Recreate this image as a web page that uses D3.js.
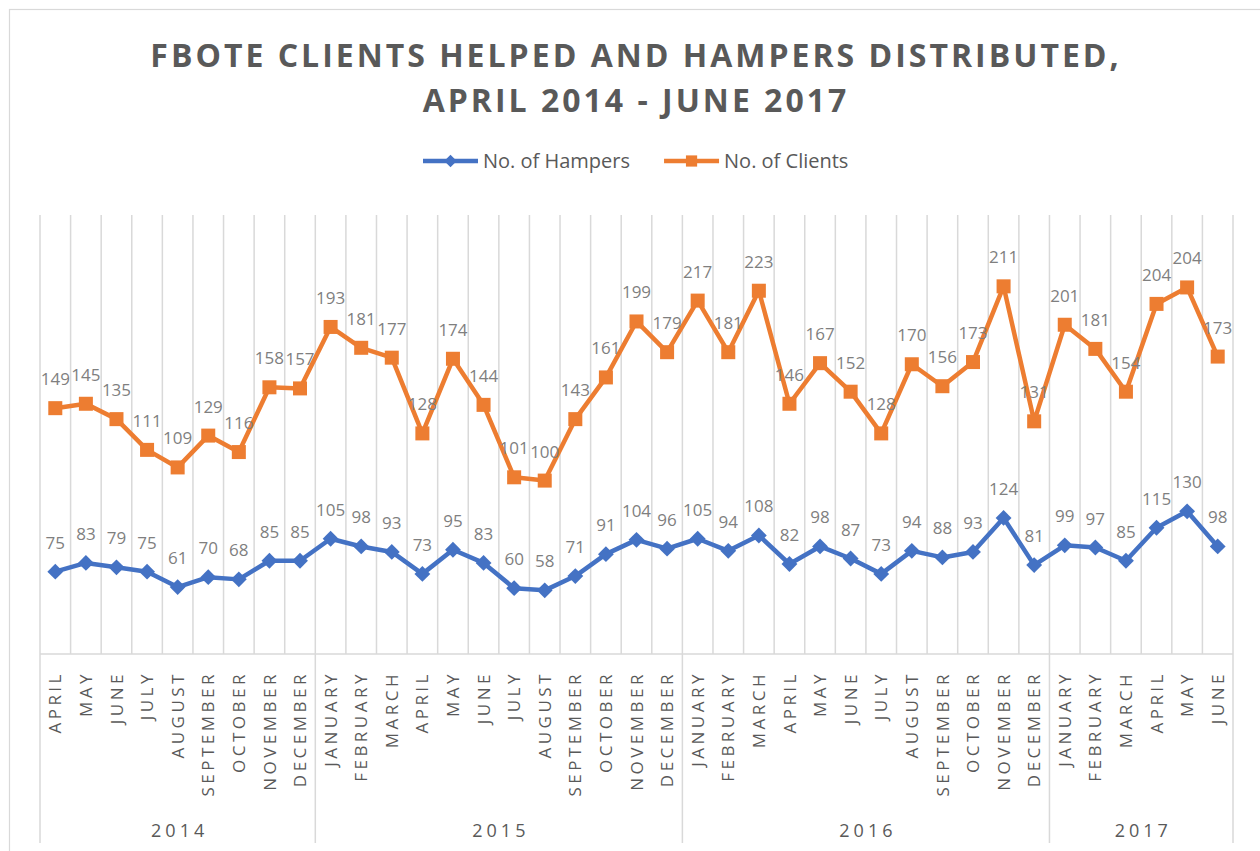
<!DOCTYPE html>
<html>
<head>
<meta charset="utf-8">
<script src="https://cdn.jsdelivr.net/npm/d3@7"></script>
<style>
  body { margin: 0; background: #fff; }
  svg { display: block; font-family: 'Open Sans', sans-serif; }
</style>
</head>
<body>
<div class="chart_container"></div>
<script>
// data
const months = ['APRIL', 'MAY', 'JUNE', 'JULY', 'AUGUST', 'SEPTEMBER', 'OCTOBER', 'NOVEMBER', 'DECEMBER',
    'JANUARY', 'FEBRUARY', 'MARCH', 'APRIL', 'MAY', 'JUNE', 'JULY', 'AUGUST', 'SEPTEMBER', 'OCTOBER', 'NOVEMBER', 'DECEMBER',
    'JANUARY', 'FEBRUARY', 'MARCH', 'APRIL', 'MAY', 'JUNE', 'JULY', 'AUGUST', 'SEPTEMBER', 'OCTOBER', 'NOVEMBER', 'DECEMBER',
    'JANUARY', 'FEBRUARY', 'MARCH', 'APRIL', 'MAY', 'JUNE']
const years = ['2014', '2015', '2016', '2017']
const monthsPerYear = [9, 12, 12, 6]

const hampers = [75, 83, 79, 75, 61, 70, 68, 85, 85,
    105, 98, 93, 73, 95, 83, 60, 58, 71, 91, 104, 96,
    105, 94, 108, 82, 98, 87, 73, 94, 88, 93, 124, 81,
    99, 97, 85, 115, 130, 98]
const clients = [149, 145, 135, 111, 109, 129, 116, 158, 157,
    193, 181, 177, 128, 174, 144, 101, 100, 143, 161, 199, 179,
    217, 181, 223, 146, 167, 152, 128, 170, 156, 173, 211, 131,
    201, 181, 154, 204, 204, 173]

const seriesNames = ['No. of Hampers', 'No. of Clients']
const seriesColors = ['#4472C4', '#ED7D31']

// stacked line chart (clients sit on top of hampers)
const rows = months.map((m, i) => ({ i: i, hampers: hampers[i], clients: clients[i] }))
const stacked = d3.stack().keys(['hampers', 'clients'])(rows)

const svg_width = 1260
const svg_height = 851
const plot = { left: 40, right: 1233, top: 215, bottom: 654 }

const svg = d3.select('.chart_container').append('svg')
    .attr('width', svg_width).attr('height', svg_height)

// chart border
svg.append('rect')
    .attr('x', 9.5).attr('y', 9.5)
    .attr('width', 1270).attr('height', 860)
    .attr('fill', 'none').attr('stroke', '#d9d9d9').attr('stroke-width', 1.2)

// scales
const xScale = d3.scaleBand().domain(d3.range(months.length)).range([plot.left, plot.right])
const yScale = d3.scaleLinear([0, 400], [plot.bottom, plot.top])
const xMid = i => xScale(i) + xScale.bandwidth() / 2
const xEdge = i => i < months.length ? xScale(i) : plot.right

// title
const title = svg.append('text')
    .attr('text-anchor', 'middle')
    .style('font-size', '32px').style('font-weight', 700)
    .style('letter-spacing', '3px').style('fill', '#595959')
title.append('tspan').attr('x', 636).attr('y', 67).text('FBOTE CLIENTS HELPED AND HAMPERS DISTRIBUTED,')
title.append('tspan').attr('x', 636).attr('y', 112).text('APRIL 2014 - JUNE 2017')

// vertical gridlines at category boundaries
const boundaries = d3.range(months.length + 1)
const yearStarts = [0, ...d3.cumsum(monthsPerYear)]
const grid = svg.append('g').attr('class', 'grid')
grid.selectAll('line').data(boundaries).join('line')
    .attr('x1', d => xEdge(d))
    .attr('x2', d => xEdge(d))
    .attr('y1', yScale(400))
    .attr('y2', d => yearStarts.includes(d) ? 843 : plot.bottom)
    .attr('stroke', '#d9d9d9').attr('stroke-width', 1.5)
// category axis line
grid.append('line')
    .attr('x1', plot.left).attr('x2', plot.right)
    .attr('y1', yScale(0)).attr('y2', yScale(0))
    .attr('stroke', '#d9d9d9').attr('stroke-width', 1.5)

// month labels (rotated)
svg.append('g').selectAll('text').data(months).join('text')
    .attr('transform', (d, i) => `translate(${xMid(i)},671) rotate(-90)`)
    .attr('dy', '0.36em')
    .attr('text-anchor', 'end')
    .style('font-size', '17px').style('letter-spacing', '3.5px').style('fill', '#595959')
    .text(d => d)

// year labels
svg.append('g').selectAll('text').data(years).join('text')
    .attr('x', (d, i) => (xEdge(yearStarts[i]) + xEdge(yearStarts[i + 1])) / 2 + 2)
    .attr('y', 837)
    .attr('text-anchor', 'middle')
    .style('font-size', '18px').style('letter-spacing', '4px').style('fill', '#595959')
    .text(d => d)

// lines
const line = d3.line().x(d => xMid(d.data.i)).y(d => yScale(d[1]))
const diamond = d3.symbol().type(d3.symbolDiamond2).size(160)
const square = d3.symbol().type(d3.symbolSquare2).size(250)

stacked.forEach((s, k) => {
    const g = svg.append('g').attr('class', 'series')
    g.append('path').datum(s)
        .attr('d', line)
        .attr('fill', 'none').attr('stroke', seriesColors[k])
        .attr('stroke-width', 4.5).attr('stroke-linejoin', 'round')
    g.selectAll('path.marker').data(s).join('path')
        .attr('class', 'marker')
        .attr('transform', d => `translate(${xMid(d.data.i)},${yScale(d[1])})`)
        .attr('d', k === 0 ? diamond() : square())
        .attr('fill', seriesColors[k])
})

// data labels, above each point
stacked.forEach((s, k) => {
    svg.append('g').selectAll('text').data(s).join('text')
        .attr('x', d => xMid(d.data.i))
        .attr('y', d => yScale(d[1]) - 23)
        .attr('text-anchor', 'middle')
        .style('font-size', '17px').style('fill', '#7f7f7f')
        .text(d => d[1] - d[0])
})

// legend
const legend = svg.append('g').attr('class', 'legend')
let lx = 423
seriesNames.forEach((name, k) => {
    const item = legend.append('g').attr('transform', `translate(${lx},161)`)
    item.append('line').attr('x1', 0).attr('x2', 55)
        .attr('stroke', seriesColors[k]).attr('stroke-width', 4.5)
    item.append('path')
        .attr('transform', 'translate(27.5,0)')
        .attr('d', d3.symbol().type(k === 0 ? d3.symbolDiamond2 : d3.symbolSquare2).size(k === 0 ? 100 : 160)())
        .attr('fill', seriesColors[k])
    const t = item.append('text').attr('x', 60).attr('y', 7)
        .style('font-size', '20px').style('fill', '#595959')
        .text(name)
    lx += 60 + t.node().getComputedTextLength() + 34
})
</script>
</body>
</html>
